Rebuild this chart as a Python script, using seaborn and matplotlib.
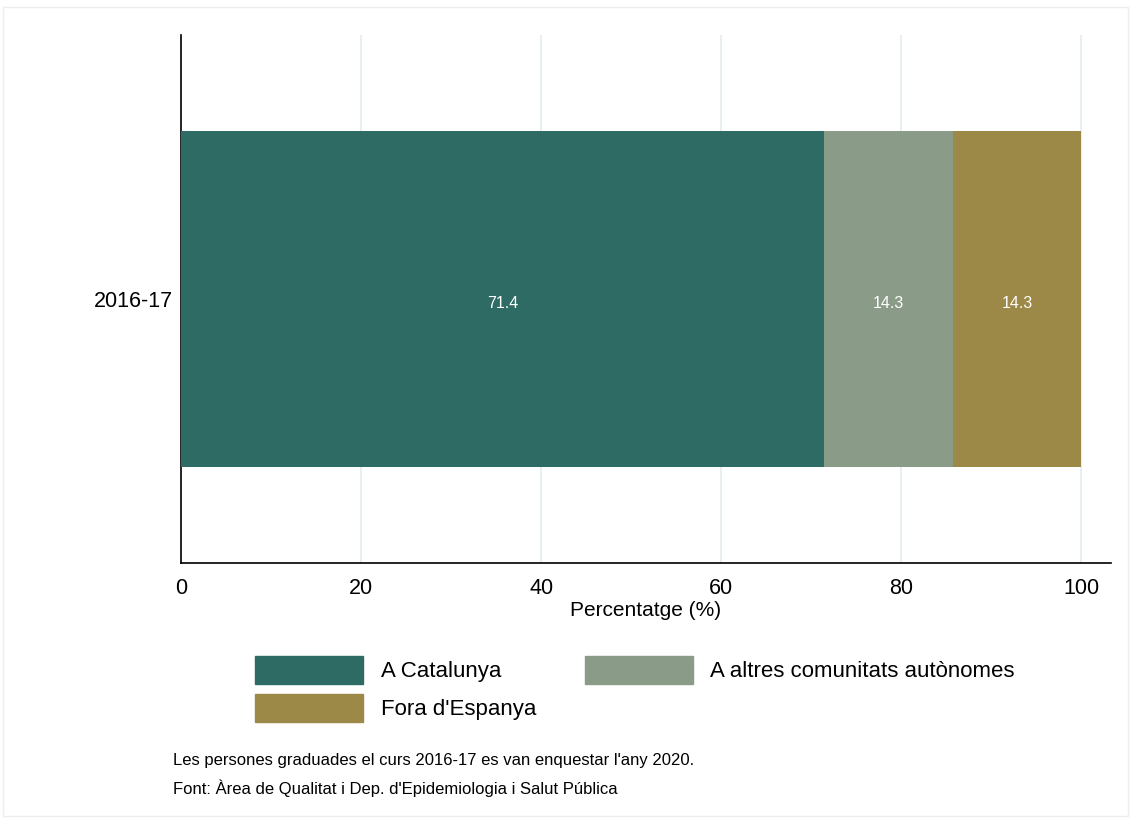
import matplotlib
matplotlib.use("Agg")
import matplotlib.pyplot as plt
import matplotlib.patches as mpatches
import pandas as pd
import seaborn as sns

# dades
cursos = ["2016-17"]
categories = ["A Catalunya", "A altres comunitats autònomes", "Fora d'Espanya"]
catalunya = [71.4]
altres_ca = [14.3]
fora = [14.3]
colors = ["#2e6b64", "#8a9c88", "#9c8847"]
xticks = [0, 20, 40, 60, 80, 100]
nota = "Les persones graduades el curs 2016-17 es van enquestar l'any 2020."
font_txt = "Font: Àrea de Qualitat i Dep. d'Epidemiologia i Salut Pública"

df = pd.DataFrame({"curs": cursos, "cat": catalunya, "alt": altres_ca, "fora": fora})
# acumulats per fer la barra apilada
df["c1"] = df["cat"]
df["c2"] = df["cat"] + df["alt"]
df["c3"] = df["c2"] + df["fora"]

sns.set_style("white")
plt.rcParams["font.family"] = ["Liberation Sans", "DejaVu Sans"]
plt.rcParams["text.color"] = "black"
plt.rcParams["axes.labelcolor"] = "black"
plt.rcParams["xtick.color"] = "black"
plt.rcParams["ytick.color"] = "black"

fig = plt.figure(figsize=(11.31, 8.23), dpi=100)
ax = fig.add_axes([181 / 1131, 1 - 563 / 823, (1111 - 181) / 1131, (563 - 35) / 823])

for col, c in zip(["c3", "c2", "c1"], colors[::-1]):
    sns.barplot(data=df, x=col, y="curs", orient="h", color=c, width=0.636,
                saturation=1, edgecolor="none", ax=ax, zorder=3)

# etiquetes dins la barra
for i, row in df.iterrows():
    for val, end in zip([row["cat"], row["alt"], row["fora"]], [row["c1"], row["c2"], row["c3"]]):
        ax.text(end - val / 2, i + 0.008, f"{val:.1f}", color="white", ha="center", va="center",
                fontsize=11.5, zorder=4)

ax.set_xlim(0, 103.3)
ax.set_ylim(0.5, -0.5)
ax.set_xticks(xticks)
ax.set_xticklabels([str(t) for t in xticks])
ax.xaxis.grid(True, color="#e6eef0", lw=1.3, zorder=0)
ax.yaxis.grid(False)
ax.set_xlabel("Percentatge (%)", fontsize=15, labelpad=1)
ax.set_ylabel("")
ax.tick_params(axis="x", length=6, width=1, direction="out", labelsize=15.5, pad=5)
ax.tick_params(axis="y", length=0, labelsize=15.5, pad=6)
for s in ["top", "right"]:
    ax.spines[s].set_visible(False)
for s in ["left", "bottom"]:
    ax.spines[s].set_color("black")
    ax.spines[s].set_linewidth(1.2)

# llegenda (ordre per columnes)
handles = [mpatches.Patch(color=c, label=l) for c, l in zip(colors, categories)]
order = [0, 2, 1]
fig.legend([handles[i] for i in order], [categories[i] for i in order],
           loc="upper left", bbox_to_anchor=(255 / 1131, 1 - 656 / 823), ncol=2,
           frameon=False, fontsize=16, handlelength=4.85, handleheight=1.56,
           handletextpad=0.8, columnspacing=2.2, labelspacing=0.45,
           borderpad=0, borderaxespad=0)

fig.text(173 / 1131, 1 - 760 / 823, nota, fontsize=12, va="center")
fig.text(173 / 1131, 1 - 788 / 823, font_txt, fontsize=12, va="center")

fig.patches.append(mpatches.Rectangle((3 / 1131, 1 - 816 / 823), 1125 / 1131, 809 / 823,
                                      transform=fig.transFigure, fill=False,
                                      edgecolor="#eeeeee", lw=1))

fig.savefig("out.png", dpi=100)
